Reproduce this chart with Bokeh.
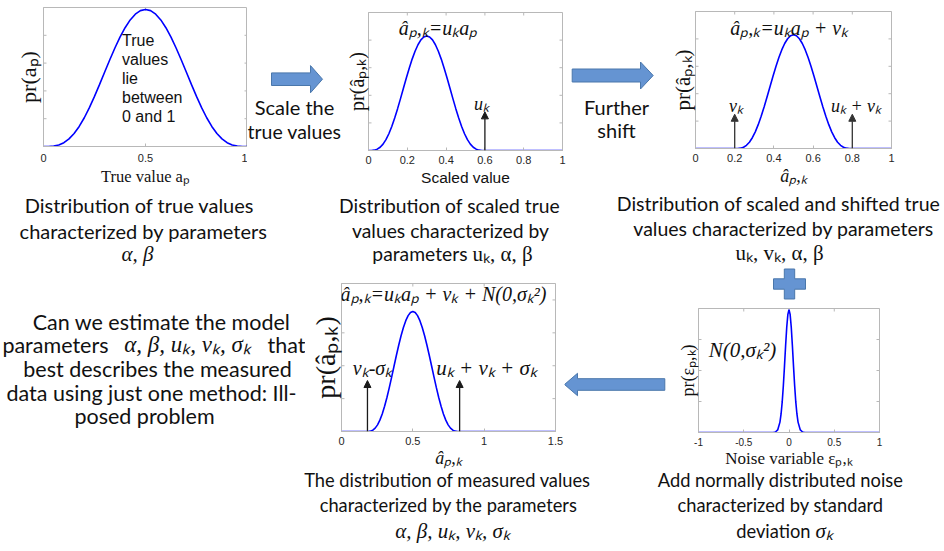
import math
from bokeh.plotting import figure
from bokeh.models import Range1d, FixedTicker, Label, PolyAnnotation, Arrow, NormalHead
from bokeh.layouts import row, column
from bokeh.embed import file_html
from bokeh.resources import INLINE

# ---------------- data ----------------
shape_t = [0.0, 0.025, 0.05, 0.075, 0.1, 0.125, 0.15, 0.175, 0.2, 0.225, 0.25, 0.275, 0.3,
           0.325, 0.35, 0.375, 0.4, 0.425, 0.45, 0.475, 0.5, 0.525, 0.55, 0.575, 0.6, 0.625,
           0.65, 0.675, 0.7, 0.725, 0.75, 0.775, 0.8, 0.825, 0.85, 0.875, 0.9, 0.925, 0.95,
           0.975, 1.0]
shape_pdf = [0.0, 0.0003, 0.0030, 0.0113, 0.0280, 0.0554, 0.0947, 0.1464, 0.2097, 0.2834,
             0.3654, 0.4530, 0.5432, 0.6329, 0.7189, 0.7978, 0.8669, 0.9235, 0.9654, 0.9913,
             1.0, 0.9913, 0.9654, 0.9235, 0.8669, 0.7978, 0.7189, 0.6329, 0.5432, 0.4530,
             0.3654, 0.2834, 0.2097, 0.1464, 0.0947, 0.0554, 0.0280, 0.0113, 0.0030, 0.0003, 0.0]

true_peak = 0.986
scale_u = 0.6
shift_v = 0.2
scaled_peak = 0.83
shifted_peak = 0.83
measured_lo = 0.17
measured_width = 0.66
measured_peak = 3.65

scaled_marks_x = [0.6]
scaled_marks_h = 0.28
shifted_marks_x = [0.2, 0.8]
shifted_marks_h = 0.25
measured_marks_x = [0.182, 0.828]
measured_marks_h = 1.55

noise_x = [-1.0, -0.2, -0.175, -0.15, -0.125, -0.1, -0.0875, -0.075, -0.0625, -0.05, -0.0375,
           -0.025, -0.0125, 0.0, 0.0125, 0.025, 0.0375, 0.05, 0.0625, 0.075, 0.0875, 0.1,
           0.125, 0.15, 0.175, 0.2, 1.0]
noise_y = [0.0, 0.0, 0.0005, 0.0039, 0.0211, 0.0847, 0.151, 0.249, 0.381, 0.539, 0.707,
           0.857, 0.962, 1.0, 0.962, 0.857, 0.707, 0.539, 0.381, 0.249, 0.151, 0.0847,
           0.0211, 0.0039, 0.0005, 0.0, 0.0]
noise_peak = 0.99

true_xticks = [0, 0.5, 1]
true_xlabels = ["0", "0.5", "1"]
unit_xticks = [0, 0.2, 0.4, 0.6, 0.8, 1]
unit_xlabels = ["0", "0.2", "0.4", "0.6", "0.8", "1"]
measured_xticks = [0, 0.5, 1, 1.5]
measured_xlabels = ["0", "0.5", "1", "1.5"]
noise_xticks = [-1, -0.5, 0, 0.5, 1]
noise_xlabels = ["-1", "-0.5", "0", "0.5", "1"]
unit_yticks = [0.2, 0.4, 0.6, 0.8]
measured_yticks = [1, 2, 3, 4]
noise_yticks = [0.25, 0.5, 0.75]

# ---------------- layout geometry (page pixels; the page has no body margin) ----------------
GEOM = {
    "f1": dict(X0=0, Y0=0, W=247, H=188, L=43, R=0, T=7, B=40, xr=(0, 1), yr=(0, 1)),
    "f2": dict(X0=342, Y0=0, W=224, H=188, L=19, R=4, T=12, B=37, xr=(0, 1), yr=(0, 1)),
    "f3": dict(X0=667, Y0=0, W=277, H=188, L=25, R=53, T=11, B=38, xr=(0, 1), yr=(0, 1)),
    "f4": dict(X0=305, Y0=266, W=259, H=204, L=36, R=9, T=17, B=34, xr=(0, 1.5), yr=(0, 4.5)),
    "f5": dict(X0=672, Y0=308, W=272, H=162, L=26, R=65, T=0, B=34, xr=(-1, 1), yr=(0, 1)),
}

AX = "#b8b8b8"
TICK_TXT = "#262626"
CURVE = "#0000ff"
BLOCK_FILL = "#6594d2"
BLOCK_LINE = "#4a77ab"
SANS = "Lato"
HELV = "Liberation Sans"
SERIF = "Liberation Serif"
TXT = "#111111"
TS = " "  # thin space


def pt(g, X, Y):
    left = g["X0"] + g["L"]
    right = g["X0"] + g["W"] - g["R"]
    top = g["Y0"] + g["T"]
    bottom = g["Y0"] + g["H"] - g["B"]
    x0, x1 = g["xr"]
    y0, y1 = g["yr"]
    return (x0 + (X - left) / (right - left) * (x1 - x0),
            y0 + (bottom - Y) / (bottom - top) * (y1 - y0))


def key(t):
    return int(t) if float(t).is_integer() else t


def make_fig(g, xticks, xlabels, yticks, xlabel, xlabel_font, xlabel_size, ylabel, ylabel_size,
             ylabel_standoff, tick_size="11px", standoff=6, xlabel_standoff=4, xlabel_style="normal"):
    p = figure(width=g["W"], height=g["H"], x_range=Range1d(*g["xr"]), y_range=Range1d(*g["yr"]),
               toolbar_location=None, output_backend="svg", title=None, frame_align=False,
               min_border_left=g["L"], min_border_right=g["R"],
               min_border_top=g["T"], min_border_bottom=g["B"])
    p.grid.visible = False
    p.background_fill_color = "white"
    p.border_fill_color = "white"
    p.outline_line_color = AX
    p.outline_line_width = 1
    xa, ya = p.xaxis[0], p.yaxis[0]
    for ax in (xa, ya):
        ax.axis_line_color = AX
        ax.major_tick_line_color = AX
        ax.major_tick_in = 3
        ax.major_tick_out = 0
        ax.minor_tick_line_color = None
    xa.ticker = FixedTicker(ticks=xticks)
    xa.major_label_overrides = {key(t): s for t, s in zip(xticks, xlabels)}
    xa.major_label_text_font = HELV
    xa.major_label_text_font_size = tick_size
    xa.major_label_text_color = TICK_TXT
    xa.major_label_standoff = standoff
    xa.axis_label = xlabel
    xa.axis_label_text_font = xlabel_font
    xa.axis_label_text_font_size = f"{xlabel_size}px"
    xa.axis_label_text_font_style = xlabel_style
    xa.axis_label_text_color = TXT
    xa.axis_label_standoff = xlabel_standoff
    ya.ticker = FixedTicker(ticks=[])
    ya.axis_label = ylabel
    ya.axis_label_text_font = SERIF
    ya.axis_label_text_font_size = f"{ylabel_size}px"
    ya.axis_label_text_font_style = "normal"
    ya.axis_label_text_color = TXT
    ya.axis_label_standoff = ylabel_standoff
    x0, x1 = g["xr"]
    y0, y1 = g["yr"]
    # inward tick marks on the left, right and top edges (half of each dash is clipped away)
    p.scatter([x0] * len(yticks), yticks, marker="dash", size=6, line_color=AX, line_width=1)
    p.scatter([x1] * len(yticks), yticks, marker="dash", size=6, line_color=AX, line_width=1)
    p.scatter(xticks, [y1] * len(xticks), marker="dash", angle=math.pi / 2, size=6,
              line_color=AX, line_width=1)
    return p


def text_fig(X0, Y0, W, H):
    p = figure(width=W, height=H, x_range=Range1d(X0, X0 + W), y_range=Range1d(Y0 + H, Y0),
               toolbar_location=None, output_backend="svg", title=None, min_border=0,
               frame_align=False, x_axis_location=None, y_axis_location=None)
    p.grid.visible = False
    p.outline_line_color = None
    p.background_fill_color = "white"
    p.border_fill_color = "white"
    g = dict(X0=X0, Y0=Y0, W=W, H=H, L=0, R=0, T=0, B=0, xr=(X0, X0 + W), yr=(Y0 + H, Y0))
    return p, g


def add_text(p, g, X, Y, text, size, font=SANS, style="normal", color=TXT, align="center"):
    x, y = pt(g, X, Y + 1)
    p.add_layout(Label(x=x, y=y, text=text, text_align=align, text_baseline="middle",
                       text_font=font, text_font_size=f"{size}px", text_font_style=style,
                       text_color=color))


def add_poly(p, g, pts):
    conv = [pt(g, X, Y) for X, Y in pts]
    p.add_layout(PolyAnnotation(xs=[c[0] for c in conv], ys=[c[1] for c in conv],
                                fill_color=BLOCK_FILL, fill_alpha=1.0,
                                line_color=BLOCK_LINE, line_width=1, line_alpha=1.0))


def block_arrow(p, g, tail, tip, cy, bh, hh, hl):
    d = 1 if tip > tail else -1
    base = tip - d * hl
    add_poly(p, g, [(tail, cy - bh), (base, cy - bh), (base, cy - hh), (tip, cy),
                    (base, cy + hh), (base, cy + bh), (tail, cy + bh)])


def stems(p, xs, h, color="#1a1a1a"):
    for x in xs:
        p.add_layout(Arrow(x_start=x, y_start=0, x_end=x, y_end=h, line_color=color, line_width=1.3,
                           end=NormalHead(size=7, fill_color=color, line_color=color)))


# ================= top band =================
# panel 1: true values
g = GEOM["f1"]
f1 = make_fig(g, true_xticks, true_xlabels, unit_yticks, "True value aₚ", SERIF, 16.5,
              "pr(aₚ)", 22, 3, standoff=7, xlabel_standoff=2)
f1.line(shape_t, [v * true_peak for v in shape_pdf], line_color=CURVE, line_width=1.6)
for i, s in enumerate(["True", "values", "lie", "between", "0 and 1"]):
    add_text(f1, g, 121.5, 39 + 19.5 * i, s, 16, font=HELV, align="left")

# arrow + "Scale the true values"
t1, gt1 = text_fig(247, 0, 95, 188)
add_text(t1, gt1, 294, 105, "Scale the", 20)
add_text(t1, gt1, 294, 130, "true values", 19.5)
block_arrow(t1, gt1, 271, 322, 78.7, 6.3, 13.6, 12)

# panel 2: scaled
g = GEOM["f2"]
f2 = make_fig(g, unit_xticks, unit_xlabels, unit_yticks, "Scaled value", HELV, 15.5,
              "pr(âₚ,ₖ)", 20, 1, standoff=5, xlabel_standoff=2)
f2.line([scale_u * t for t in shape_t] + [1.0], [v * scaled_peak for v in shape_pdf] + [0.0],
        line_color=CURVE, line_width=1.6)
stems(f2, scaled_marks_x, scaled_marks_h)
add_text(f2, g, 433, 27, "âₚ,ₖ=uₖaₚ", 20, font=SERIF, style="italic")
add_text(f2, g, 478, 103, "uₖ", 18, font=SERIF, style="italic")

# arrow + "Further shift"
t2, gt2 = text_fig(566, 0, 101, 188)
add_text(t2, gt2, 616, 105, "Further", 20)
add_text(t2, gt2, 616, 128, "shift", 20)
block_arrow(t2, gt2, 571.7, 652.7, 75, 6.5, 13.5, 12.7)

# panel 3: scaled + shifted
g = GEOM["f3"]
f3 = make_fig(g, unit_xticks, unit_xlabels, unit_yticks, "âₚ,ₖ", SERIF, 18,
              "pr(âₚ,ₖ)", 21, 1, standoff=5, xlabel_standoff=1, xlabel_style="italic")
f3.line([0.0] + [shift_v + scale_u * t for t in shape_t] + [1.0],
        [0.0] + [v * shifted_peak for v in shape_pdf] + [0.0], line_color=CURVE, line_width=1.6)
stems(f3, shifted_marks_x, shifted_marks_h, color="#333333")
add_text(f3, g, 787, 27, f"âₚ,ₖ=uₖaₚ{TS}+{TS}vₖ", 20, font=SERIF, style="italic")
add_text(f3, g, 733, 106, "vₖ", 18, font=SERIF, style="italic")
add_text(f3, g, 855, 106, f"uₖ{TS}+{TS}vₖ", 18, font=SERIF, style="italic")

# captions under the top panels
c1, gc1 = text_fig(0, 188, 300, 78)
add_text(c1, gc1, 139, 203, "Distribution of true values", 20)
add_text(c1, gc1, 143, 229, "characterized by parameters", 20)
add_text(c1, gc1, 137, 252, "α, β", 21, font=SERIF, style="italic")

c2, gc2 = text_fig(300, 188, 290, 78)
add_text(c2, gc2, 449, 204, "Distribution of scaled true", 19.3)
add_text(c2, gc2, 450, 229, "values characterized by", 19.3)
add_text(c2, gc2, 467, 252, "parameters", 19.3, align="right")
add_text(c2, gc2, 472, 252, "uₖ, α, β", 21, font=SERIF, align="left")

c3, gc3 = text_fig(590, 188, 354, 78)
add_text(c3, gc3, 778, 202, "Distribution of scaled and shifted true", 19.5)
add_text(c3, gc3, 783, 227, "values characterized by parameters", 19.5)
add_text(c3, gc3, 779, 251, "uₖ, vₖ, α, β", 21, font=SERIF)

# ================= bottom band =================
tl, gtl = text_fig(0, 266, 305, 204)
add_text(tl, gtl, 161, 320, "Can we estimate the model", 21.5)
add_text(tl, gtl, 108, 343, "parameters", 21.5, align="right")
add_text(tl, gtl, 187, 343, "α, β, uₖ, vₖ, σₖ", 23, font=SERIF, style="italic")
add_text(tl, gtl, 267, 343, "that", 21.5, align="left")
add_text(tl, gtl, 157, 367, "best describes the measured", 21.5)
add_text(tl, gtl, 151, 391, "data using just one method: Ill-", 21.5)
add_text(tl, gtl, 144, 414, "posed problem", 21.5)

# panel 4: measured values
g = GEOM["f4"]
f4 = make_fig(g, measured_xticks, measured_xlabels, measured_yticks, "âₚ,ₖ", SERIF, 18,
              "pr(âₚ,ₖ)", 28, 1, standoff=5, xlabel_standoff=0, xlabel_style="italic")
f4.line([0.0] + [measured_lo + measured_width * t for t in shape_t] + [1.5],
        [0.0] + [v * measured_peak for v in shape_pdf] + [0.0], line_color=CURVE, line_width=1.6)
stems(f4, measured_marks_x, measured_marks_h)
add_text(f4, g, 443, 293, f"âₚ,ₖ=uₖaₚ{TS}+{TS}vₖ{TS}+{TS}N(0,σₖ²)", 20, font=SERIF, style="italic")
add_text(f4, g, 372, 369, "vₖ-σₖ", 20, font=SERIF, style="italic")
add_text(f4, g, 486, 369, f"uₖ{TS}+{TS}vₖ{TS}+{TS}σₖ", 21, font=SERIF, style="italic")

# left arrow
t3, gt3 = text_fig(564, 266, 108, 204)
block_arrow(t3, gt3, 664.3, 564, 384, 5.8, 11.2, 13)

# plus sign
pl, gpl = text_fig(672, 266, 272, 42)
cx, cy, hw, hv, th = 789, 283.5, 16, 15, 5.2
add_poly(pl, gpl, [(cx - th, cy - hv), (cx + th, cy - hv), (cx + th, cy - th), (cx + hw, cy - th),
                   (cx + hw, cy + th), (cx + th, cy + th), (cx + th, cy + hv), (cx - th, cy + hv),
                   (cx - th, cy + th), (cx - hw, cy + th), (cx - hw, cy - th), (cx - th, cy - th)])

# panel 5: noise
g = GEOM["f5"]
f5 = make_fig(g, noise_xticks, noise_xlabels, noise_yticks, "Noise variable εₚ,ₖ", SERIF, 17,
              "pr(εₚ,ₖ)", 18, 1, tick_size="10px", standoff=5, xlabel_standoff=0)
f5.line(noise_x, [v * noise_peak for v in noise_y], line_color=CURVE, line_width=1.6)
add_text(f5, g, 742, 350, "N(0,σₖ²)", 21, font=SERIF, style="italic")

# captions under the bottom panels
c4, gc4 = text_fig(0, 470, 620, 81)
add_text(c4, gc4, 447, 478, "The distribution of measured values", 18.3)
add_text(c4, gc4, 448, 503, "characterized by the parameters", 18.3)
add_text(c4, gc4, 452, 529, "α, β, uₖ, vₖ, σₖ", 21, font=SERIF, style="italic")

c5, gc5 = text_fig(620, 470, 324, 81)
add_text(c5, gc5, 780, 478, "Add normally distributed noise", 18.3)
add_text(c5, gc5, 780, 503, "characterized by standard", 18.3)
add_text(c5, gc5, 810, 529, "deviation", 18.3, align="right")
add_text(c5, gc5, 815, 529, "σₖ", 21, font=SERIF, style="italic", align="left")

layout = column(
    row(f1, t1, f2, t2, f3),
    row(c1, c2, c3),
    row(tl, f4, t3, column(pl, f5)),
    row(c4, c5),
)
open("out.html", "w").write(file_html(layout, INLINE))
